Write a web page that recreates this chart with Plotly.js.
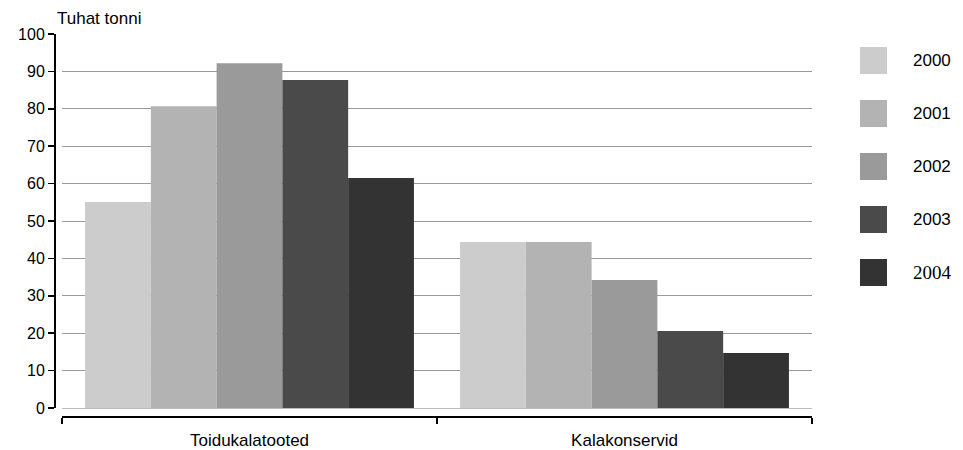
<!DOCTYPE html>
<html>
<head>
<meta charset="utf-8">
<script src="https://cdn.plot.ly/plotly-3.0.1.min.js"></script>
<style>html,body{margin:0;padding:0;background:#fff;}#chart{width:963px;height:450px;}</style>
</head>
<body>
<div id="chart"></div>
<script>
const categories = ["Toidukalatooted", "Kalakonservid"];
const years = ["2000", "2001", "2002", "2003", "2004"];
const values2000 = [55.1, 44.4];
const values2001 = [80.7, 44.4];
const values2002 = [92.2, 34.2];
const values2003 = [87.7, 20.6];
const values2004 = [61.5, 14.7];
const seriesValues = [values2000, values2001, values2002, values2003, values2004];
const colors = ["#cccccc", "#b3b3b3", "#9a9a9a", "#4a4a4a", "#333333"];
const SANS = "Liberation Sans, Arial, sans-serif";
const SERIF = "Liberation Serif";
const legendFonts = [SANS, SANS, SANS, SANS, SERIF];
const yTitle = "Tuhat tonni";

const W = 963, H = 450;
const M = {l: 55, r: 151, t: 34, b: 33};
const PW = W - M.l - M.r, PH = H - M.t - M.b;
const px = x => (x - M.l) / PW;
const py = y => (H - M.b - y) / PH;

const traces = years.map((yr, i) => ({
  type: 'bar',
  name: yr,
  x: categories,
  y: seriesValues[i],
  marker: {color: colors[i], line: {width: 0}},
  showlegend: false,
  hoverinfo: 'x+y+name'
}));

const shapes = [];
const annotations = [];
years.forEach((yr, i) => {
  const cy = 60.5 + i * 53;
  shapes.push({type: 'rect', xref: 'paper', yref: 'paper',
    x0: px(860), x1: px(887), y0: py(cy + 13.5), y1: py(cy - 13.5),
    fillcolor: colors[i], line: {width: 0}});
  annotations.push({xref: 'paper', yref: 'paper', x: px(911), y: py(cy),
    xanchor: 'left', yanchor: 'middle', showarrow: false, text: yr,
    font: {family: legendFonts[i], size: i === 4 ? 19 : 17, color: '#000'}});
});
annotations.push({xref: 'paper', yref: 'paper', x: px(55), y: py(18),
  xanchor: 'left', yanchor: 'middle', showarrow: false, text: yTitle,
  font: {family: SANS, size: 17, color: '#000'}});

const layout = {
  width: W, height: H,
  margin: M,
  paper_bgcolor: '#fff', plot_bgcolor: '#fff',
  font: {family: SANS, size: 16, color: '#000'},
  barmode: 'group',
  bargap: 0.123,
  bargroupgap: 0,
  showlegend: false,
  xaxis: {
    domain: [px(62), 1],
    anchor: 'free', position: 0,
    showline: true, linecolor: '#000', linewidth: 2,
    ticks: 'outside', tickson: 'boundaries', ticklen: 6, tickwidth: 1.5, tickcolor: '#000',
    showgrid: false, zeroline: false,
    ticklabelstandoff: 8,
    tickfont: {size: 17, family: SANS}
  },
  yaxis: {
    domain: [9 / PH, 1],
    anchor: 'free', position: 0,
    range: [0, 100], dtick: 10, tick0: 0,
    showline: true, linecolor: '#000', linewidth: 2,
    ticks: 'outside', ticklen: 6, tickwidth: 1.5, tickcolor: '#000',
    showgrid: true, gridcolor: '#9a9a9a', gridwidth: 1,
    zeroline: true, zerolinecolor: '#bbbbbb', zerolinewidth: 1,
    tickfont: {size: 16, family: SANS}
  },
  shapes: shapes,
  annotations: annotations
};

Plotly.newPlot('chart', traces, layout, {staticPlot: true, displayModeBar: false});
</script>
</body>
</html>
